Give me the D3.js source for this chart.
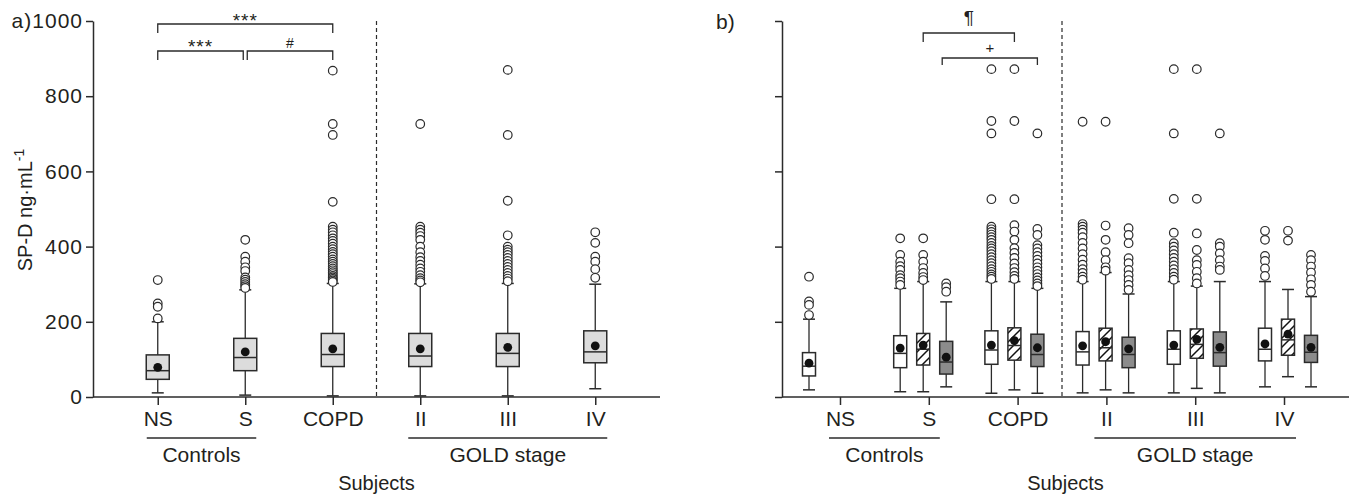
<!DOCTYPE html>
<html lang="en">
<head>
<meta charset="UTF-8">
<title>SP-D by subject group</title>
<script src="https://d3js.org/d3.v7.min.js"></script>
<style>
  body { margin: 0; background: #fff; }
  svg { display: block; font-family: "Liberation Sans", Arial, sans-serif; }
  text { fill: #231f20; }
</style>
</head>
<body>
<svg width="1349" height="496"></svg>
<script>
const groups = ["NS", "S", "COPD", "II", "III", "IV"];
const yTicks = [0, 200, 400, 600, 800, 1000];

// panel a: [low whisker, Q1, median, Q3, high whisker]
const boxA = [
  [11, 47, 70, 112, 200],
  [5, 70, 105, 156, 285],
  [3, 81, 113, 169, 302],
  [3, 81, 109, 169, 301],
  [3, 81, 116, 169, 302],
  [22, 91, 120, 176, 300]
];
const meanA = [79, 120, 128, 128, 132, 136];
const outA = [
  [311, 249, 240, 209],
  [418, 373, 360, 345, 335, 318, 312, 306, 300, 295, 290],
  [868, 726, 697, 519, 453, 445, 438, 430, 422, 415, 408, 400, 393, 386, 380, 373, 366, 360, 354, 348, 342, 337, 332, 327, 322, 318, 314, 310, 306],
  [726, 453, 445, 437, 428, 418, 400, 385, 372, 362, 352, 342, 333, 324, 316, 310, 305],
  [870, 697, 522, 430, 400, 392, 385, 378, 370, 362, 354, 346, 338, 330, 322, 315, 308],
  [438, 410, 373, 360, 340, 317]
];

// panel b: three boxes per group, null where there is no box
const seriesB = ["open", "hatched", "filled"];
const boxBopen = [
  [19, 56, 82, 118, 207],
  [14, 78, 116, 163, 289],
  [10, 87, 125, 176, 307],
  [11, 85, 120, 174, 307],
  [11, 87, 127, 176, 307],
  [27, 96, 127, 183, 307]
];
const meanBopen = [90, 130, 138, 136, 138, 141];
const outBopen = [
  [320, 254, 245, 218],
  [422, 378, 360, 348, 338, 324, 316, 307, 298],
  [872, 734, 701, 526, 453, 446, 439, 432, 425, 418, 410, 402, 395, 388, 380, 372, 364, 356, 348, 340, 333, 326, 320, 314],
  [732, 460, 453, 445, 437, 425, 410, 395, 380, 365, 352, 340, 330, 320, 312],
  [872, 701, 527, 437, 409, 400, 390, 380, 370, 360, 350, 340, 330, 320, 312],
  [442, 418, 375, 362, 342, 322]
];
const boxBhatched = [
  null,
  [14, 85, 127, 169, 307],
  [19, 98, 137, 184, 307],
  [19, 96, 131, 183, 331],
  [23, 103, 140, 181, 295],
  [54, 111, 152, 207, 286]
];
const meanBhatched = [null, 138, 150, 147, 153, 167];
const outBhatched = [
  [],
  [422, 378, 360, 343, 330, 319, 311],
  [872, 734, 526, 457, 440, 418, 396, 383, 370, 355, 343, 332, 322, 314],
  [732, 456, 418, 385, 364, 345, 336],
  [872, 527, 435, 391, 364, 351, 333, 316, 302],
  [442, 416]
];
const boxBfilled = [
  null,
  [27, 61, 93, 148, 253],
  [10, 81, 113, 167, 289],
  [11, 78, 113, 159, 274],
  [11, 82, 118, 173, 307],
  [27, 92, 119, 164, 267]
];
const meanBfilled = [null, 106, 131, 128, 132, 132];
const outBfilled = [
  [],
  [302, 292, 280],
  [701, 447, 431, 404, 395, 385, 375, 365, 355, 345, 336, 327, 318, 310, 302, 295],
  [449, 431, 409, 369, 356, 338, 324, 311, 298, 285],
  [701, 409, 400, 382, 364, 347, 338],
  [378, 364, 347, 331, 313, 298, 280]
];

const svg = d3.select("svg");
const ink = "#2b2b2b";

// hatch for the middle series
svg.append("defs").append("pattern")
  .attr("id", "hatch").attr("patternUnits", "userSpaceOnUse")
  .attr("width", 9).attr("height", 9)
  .call(p => {
    p.append("rect").attr("width", 9).attr("height", 9).attr("fill", "#fff");
    p.append("path").attr("d", "M0,9L9,0M-2,2L2,-2M7,11L11,7")
      .attr("stroke", "#111").attr("stroke-width", 1.5);
  });

const y = d3.scaleLinear().domain([0, 1000]).range([397, 21]);

// x scales
const xA = d3.scalePoint().domain(groups).range([93, 660]).padding(0.74);
const xB = d3.scalePoint().domain(groups).range([782, 1342]).padding(0.653);
const xBbox = d3.scalePoint().domain(groups).range([832, 1288]);
const subB = d3.scalePoint().domain(seriesB).range([-23, 23]);

function drawBox(g, cx, s, mean, outl, w, fill) {
  if (!s) return;
  const [lo, q1, md, q3, hi] = s;
  const cap = 12;
  g.append("line").attr("x1", cx).attr("x2", cx).attr("y1", y(lo)).attr("y2", y(hi))
    .attr("stroke", ink).attr("stroke-width", 1.3);
  [lo, hi].forEach(v => g.append("line")
    .attr("x1", cx - cap / 2).attr("x2", cx + cap / 2).attr("y1", y(v)).attr("y2", y(v))
    .attr("stroke", ink).attr("stroke-width", 1.5));
  g.selectAll(null).data(outl).enter().append("circle")
    .attr("cx", cx).attr("cy", d => y(d)).attr("r", 4.3)
    .attr("fill", "#fff").attr("stroke", ink).attr("stroke-width", 1.2);
  g.append("rect").attr("x", cx - w / 2).attr("width", w)
    .attr("y", y(q3)).attr("height", y(q1) - y(q3))
    .attr("fill", fill).attr("stroke", ink).attr("stroke-width", 1.5);
  g.append("line").attr("x1", cx - w / 2).attr("x2", cx + w / 2).attr("y1", y(md)).attr("y2", y(md))
    .attr("stroke", ink).attr("stroke-width", 1.5);
  g.append("circle").attr("cx", cx).attr("cy", y(mean)).attr("r", 4.4).attr("fill", "#111");
}

function axes(g, x, x0, x1, labels) {
  const ya = g.append("g").attr("transform", `translate(${x0},0)`)
    .call(d3.axisLeft(y).tickValues(yTicks).tickSize(7).tickSizeOuter(0).tickPadding(3)
      .tickFormat(labels ? (d => d === 1000 ? "a)1000" : d) : ""));
  ya.selectAll("text").style("font-size", "21px").style("letter-spacing", "1px");
  const xa = g.append("g").attr("transform", "translate(0,397)")
    .call(d3.axisBottom(x).tickSize(8).tickPadding(6));
  xa.select(".domain").remove();
  xa.selectAll("text").style("font-size", "21px");
  g.selectAll(".domain, .tick line").attr("stroke", ink).attr("stroke-width", 1.5);
  g.append("line").attr("x1", x0).attr("x2", x1).attr("y1", 397).attr("y2", 397)
    .attr("stroke", ink).attr("stroke-width", 1.5);

  // separator between controls and COPD stages
  const xd = (x("COPD") + x("II")) / 2;
  g.append("line").attr("x1", xd).attr("x2", xd).attr("y1", y(1000)).attr("y2", y(0))
    .attr("stroke", ink).attr("stroke-width", 1.2).attr("stroke-dasharray", "4,3");

  // group labels
  const lab = (a, b, t) => {
    g.append("line").attr("x1", a).attr("x2", b).attr("y1", 438).attr("y2", 438)
      .attr("stroke", ink).attr("stroke-width", 1.4);
    g.append("text").attr("x", (a + b) / 2).attr("y", 462).attr("text-anchor", "middle")
      .style("font-size", "21px").text(t);
  };
  lab(x("NS") - 11, x("S") + 11, "Controls");
  lab(x("II") - 12, x("IV") + 12, "GOLD stage");
  g.append("text").attr("x", (x0 + x1) / 2).attr("y", 490).attr("text-anchor", "middle")
    .style("font-size", "20px").text("Subjects");
}

function bracket(g, a, b, yy, drop, label, size, ly, spacing) {
  g.append("path").attr("d", `M${a},${yy + drop}V${yy}H${b}V${yy + drop}`)
    .attr("fill", "none").attr("stroke", ink).attr("stroke-width", 1.3);
  g.append("text").attr("x", (a + b) / 2).attr("y", ly).attr("text-anchor", "middle")
    .style("font-size", size + "px").style("letter-spacing", (spacing || 0) + "px").text(label);
}

// panel a
const gA = svg.append("g");
axes(gA, xA, 93, 660, true);
groups.forEach((k, i) => drawBox(gA, xA(k), boxA[i], meanA[i], outA[i], 23, "#dcdcdc"));
bracket(gA, xA("NS"), xA("COPD"), 24, 9, "***", 19, 27, 1);
bracket(gA, xA("NS"), xA("S") - 2, 51, 9, "***", 19, 53, 1);
bracket(gA, xA("S") + 2, xA("COPD"), 51, 9, "#", 14, 48);

// panel b
const gB = svg.append("g");
axes(gB, xB, 782, 1349, false);
gB.append("text").attr("x", 716).attr("y", 29).style("font-size", "21px").text("b)");
const fills = { open: "#fff", hatched: "url(#hatch)", filled: "#8c8c8c" };
const dataB = {
  open: [boxBopen, meanBopen, outBopen],
  hatched: [boxBhatched, meanBhatched, outBhatched],
  filled: [boxBfilled, meanBfilled, outBfilled]
};
seriesB.forEach(s => {
  const [bx, mn, ou] = dataB[s];
  groups.forEach((k, i) => {
    const cx = k === "NS" ? xBbox(k) - 23 : xBbox(k) + subB(s);
    drawBox(gB, cx, bx[i], mn[i], ou[i], 13, fills[s]);
  });
});
bracket(gB, xBbox("S") + subB("hatched"), xBbox("COPD") + subB("hatched"), 33, 9, "¶", 19, 24);
bracket(gB, xBbox("S") + subB("filled") - 4, xBbox("COPD") + subB("filled"), 58, 7, "+", 15, 53);

// y axis title
svg.append("text").attr("transform", "translate(32,210) rotate(-90)")
  .attr("text-anchor", "middle").style("font-size", "20px")
  .call(t => {
    t.append("tspan").text("SP-D ng·mL");
    t.append("tspan").attr("dy", -8).style("font-size", "14px").text("-1");
  });
</script>
</body>
</html>
